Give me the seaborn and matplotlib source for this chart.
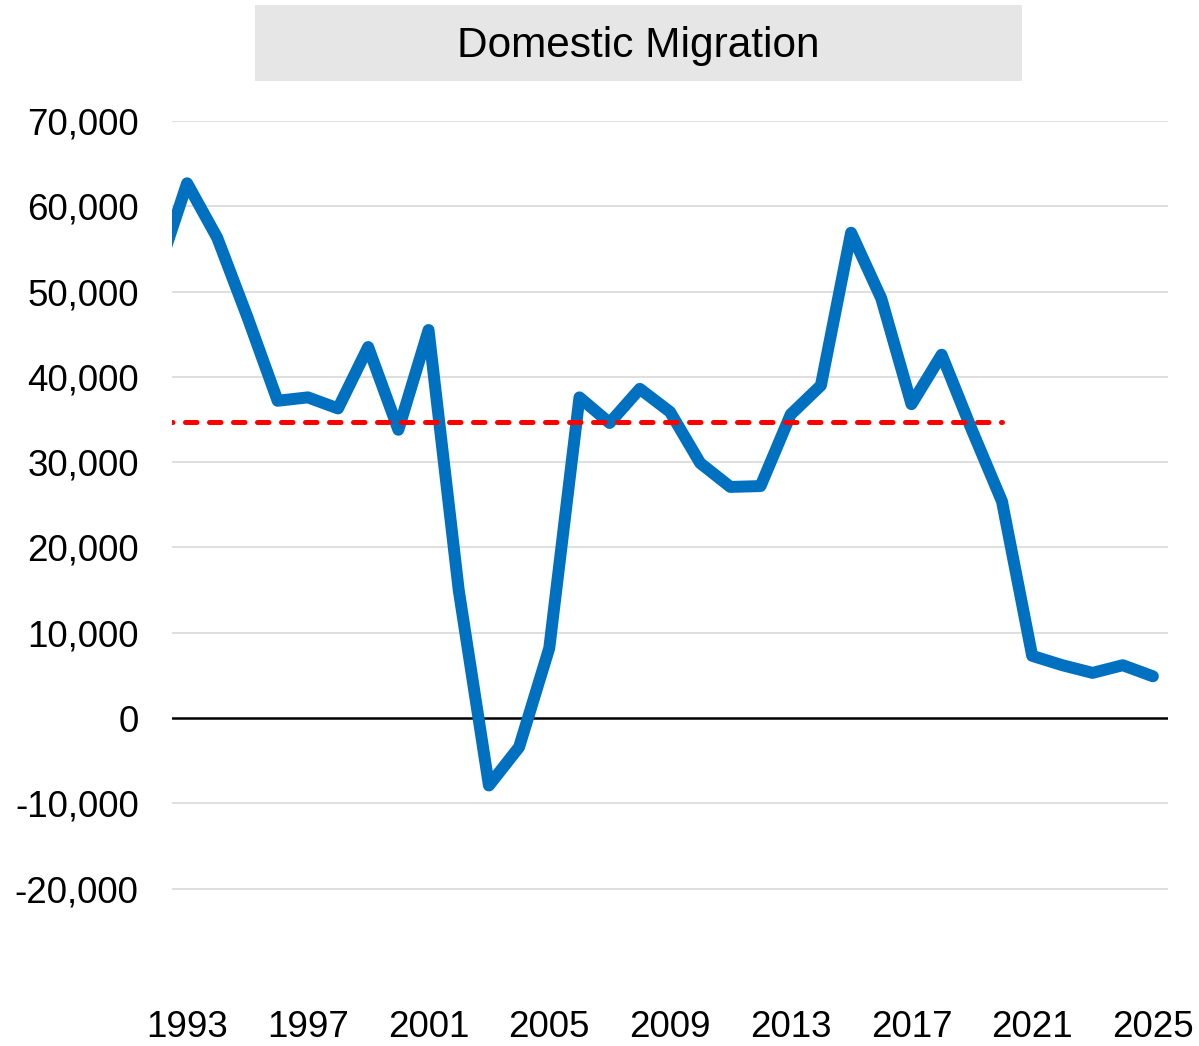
import matplotlib
matplotlib.use("Agg")
import matplotlib.pyplot as plt
from matplotlib.patches import Rectangle
from matplotlib.ticker import FuncFormatter
import pandas as pd
import seaborn as sns

# Values
YEARS = list(range(1992, 2026))
MIGRATION = [
    52000, 62700, 56300, 47000, 37200, 37600, 36300, 43500, 33800, 45500,
    15000, -7900, -3400, 8200, 37600, 34600, 38600, 35900, 29900, 27100,
    27200, 35600, 39000, 56900, 49200, 36800, 42600, 33800, 25400, 7300,
    6200, 5300, 6200, 4900,
]
AVG_YEARS = [1992, 2020]
AVG_VALUE = 34700
X_TICKS = list(range(1993, 2026, 4))
Y_TICKS = list(range(-20000, 70001, 10000))
TITLE = "Domestic Migration"


def main() -> None:
    sns.set_theme(style="white")
    plt.rcParams["font.family"] = ["Liberation Sans", "DejaVu Sans"]

    df = pd.DataFrame({"year": YEARS, "value": MIGRATION})
    avg = pd.DataFrame({"year": AVG_YEARS, "value": [AVG_VALUE] * len(AVG_YEARS)})

    W, H = 1199, 1046
    fig = plt.figure(figsize=(W / 100, H / 100), dpi=100)
    ax = fig.add_axes([172 / W, 1 - 974 / H, 996 / W, 853 / H])

    for y in Y_TICKS:
        if y != 0:
            ax.axhline(y, color="#d9d9d9", lw=1.2, zorder=0)
    ax.axhline(0, color="black", lw=1.8, zorder=1)

    sns.lineplot(data=df, x="year", y="value", ax=ax, color="#0070c0",
                 lw=8.6, solid_joinstyle="round", solid_capstyle="round", zorder=3)
    sns.lineplot(data=avg, x="year", y="value", ax=ax, color="#ff0000",
                 lw=3.6, zorder=4, dashes=False)
    red = ax.lines[-1]
    red.set_linestyle((4.0, (2.3, 2.5)))
    red.set_dash_capstyle("round")

    ax.set_xlim(1992.5, 2025.5)
    ax.set_ylim(-30000, 70000)
    ax.set_xticks(X_TICKS)
    ax.set_yticks(Y_TICKS)
    ax.yaxis.set_major_formatter(FuncFormatter(lambda v, _: f"{v:,.0f}"))
    ax.tick_params(axis="both", length=0, labelsize=26.5, colors="black")
    ax.tick_params(axis="y", pad=24)
    ax.tick_params(axis="x", pad=26)
    ax.set_xlabel("")
    ax.set_ylabel("")
    for s in ax.spines.values():
        s.set_visible(False)

    fig.patches.append(Rectangle((255 / W, 1 - 81 / H), 767 / W, 76 / H,
                                 transform=fig.transFigure, facecolor="#e6e6e6",
                                 edgecolor="none", zorder=0))
    fig.text((255 + 1022) / 2 / W, 1 - 46 / H, TITLE, ha="center", va="center",
             fontsize=30.5, color="black")

    fig.savefig("out.png", dpi=100, facecolor="white")
    plt.close(fig)


if __name__ == "__main__":
    main()
